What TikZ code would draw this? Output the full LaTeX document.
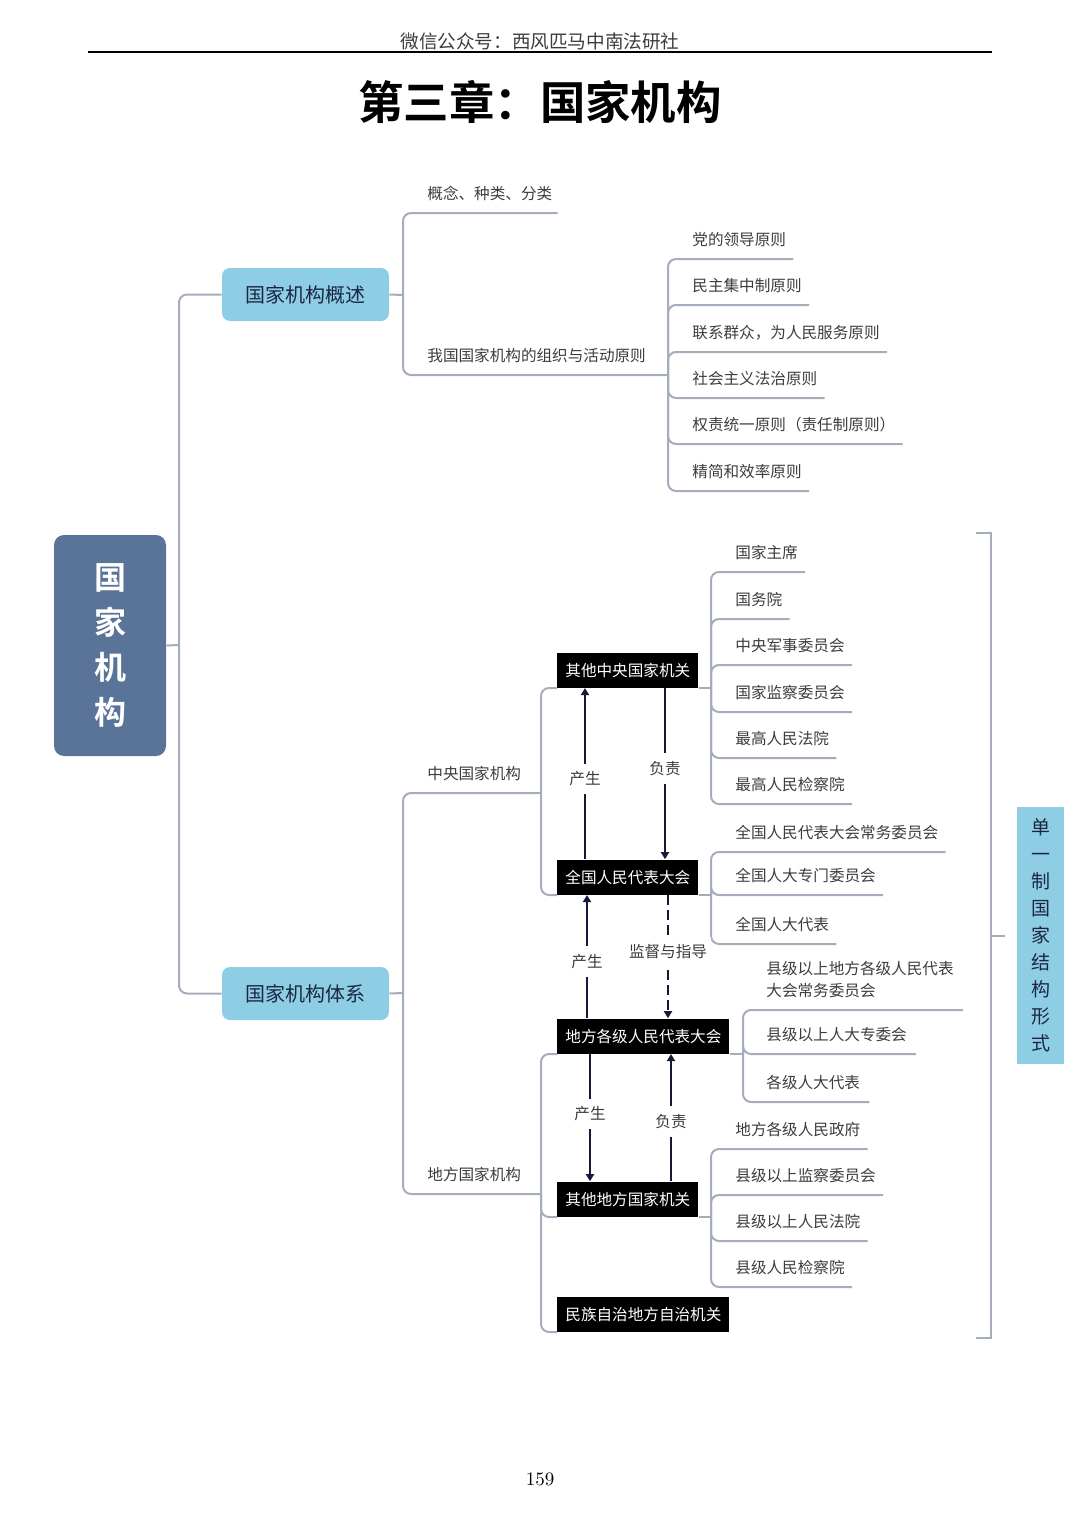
\documentclass[tikz,border=0pt]{standalone}
\usepackage{fontspec}
\usepackage{tikz}
\usetikzlibrary{shapes,arrows,arrows.meta,positioning}
\newfontfamily\cjk{Noto Sans CJK SC}[BoldFont={Noto Sans CJK SC Bold}]
\definecolor{raizcor}{RGB}{90,115,153}
\definecolor{azul}{RGB}{142,206,228}
\definecolor{tinta}{RGB}{28,38,66}
\definecolor{ramo}{RGB}{165,172,188}
\definecolor{texto}{RGB}{60,60,64}
\definecolor{escuro}{RGB}{22,26,58}

\begin{document}
\begin{tikzpicture}[x=0.5pt, y=-0.5pt, >={Triangle[length=3.5pt,width=4pt]},
    conn/.style={draw=ramo, line width=1pt, rounded corners=4pt},
    folha/.style={anchor=south west, inner xsep=0pt, inner ysep=3pt, text height=6.5pt, text depth=3.5pt, text=texto, font=\cjk\fontsize{7.8}{11}\selectfont},
    folhadupla/.style={anchor=south west, inner xsep=0pt, inner ysep=3pt, text depth=3.5pt, align=left, text=texto, font=\cjk\fontsize{7.8}{11}\selectfont},
    caixa/.style={anchor=south west, fill=black, text=white, inner xsep=4pt, minimum height=17.5pt, font=\cjk\fontsize{7.8}{11}\selectfont},
    nivel/.style={fill=azul, text=tinta, rounded corners=4pt, minimum width=83.5pt, minimum height=26.5pt, font=\cjk\fontsize{10}{12}\selectfont},
    seta/.style={draw=escuro, line width=1pt},
    rot/.style={fill=white, inner xsep=2pt, inner ysep=4pt, text=texto, font=\cjk\fontsize{7.8}{11}\selectfont}]
    \useasboundingbox (0,0) rectangle (1080,1526);

    % Cabecalho
    \node[text=texto, font=\cjk\fontsize{9.3}{11}\selectfont] (cab) at (540,41) {微信公众号：西风匹马中南法研社};
    \draw[line width=0.6pt] (88,52) -- (992,52);
    \node[font=\cjk\bfseries\fontsize{22.7}{26}\selectfont] (titulo) at (540,102) {第三章：国家机构};

    % Raiz e primeiro nivel
    \node[fill=raizcor, text=white, rounded corners=5pt, minimum width=56pt, minimum height=110.5pt, align=center, font=\cjk\bfseries\fontsize{16}{22.5}\selectfont] (raiz) at (110,645.5) {国\\家\\机\\构};
    \node[nivel] (gaishu) at (305.5,294.5) {国家机构概述};
    \node[nivel] (tixi) at (305.5,993.5) {国家机构体系};

    % Ramo:概述
    \node[folha] (gainian) at (427,213) {概念、种类、分类};
    \node[folha] (yuanze) at (427,375) {我国国家机构的组织与活动原则};
    \node[folha] (p1) at (692,259) {党的领导原则};
    \node[folha] (p2) at (692,305) {民主集中制原则};
    \node[folha] (p3) at (692,352) {联系群众，为人民服务原则};
    \node[folha] (p4) at (692,398) {社会主义法治原则};
    \node[folha] (p5) at (692,444) {权责统一原则（责任制原则）};
    \node[folha] (p6) at (692,491) {精简和效率原则};

    % Ramo: 体系
    \node[folha] (zhongyang) at (427,793) {中央国家机构};
    \node[folha] (difang) at (427,1194) {地方国家机构};
    \node[caixa] (qtzy) at (557,688) {其他中央国家机关};
    \node[caixa] (qgrd) at (557,895) {全国人民代表大会};
    \node[caixa] (dfrd) at (557,1054) {地方各级人民代表大会};
    \node[caixa] (qtdf) at (557,1217) {其他地方国家机关};
    \node[caixa] (mzzz) at (557,1332) {民族自治地方自治机关};

    \node[folha] (zy1) at (735,572) {国家主席};
    \node[folha] (zy2) at (735,619) {国务院};
    \node[folha] (zy3) at (735,665) {中央军事委员会};
    \node[folha] (zy4) at (735,712) {国家监察委员会};
    \node[folha] (zy5) at (735,758) {最高人民法院};
    \node[folha] (zy6) at (735,804) {最高人民检察院};

    \node[folha] (nq1) at (735,852) {全国人民代表大会常务委员会};
    \node[folha] (nq2) at (735,895) {全国人大专门委员会};
    \node[folha] (nq3) at (735,944) {全国人大代表};

    \node[folhadupla] (dq1) at (766,1010) {县级以上地方各级人民代表\\大会常务委员会};
    \node[folha] (dq2) at (766,1054) {县级以上人大专委会};
    \node[folha] (dq3) at (766,1102) {各级人大代表};

    \node[folha] (do1) at (735,1149) {地方各级人民政府};
    \node[folha] (do2) at (735,1195) {县级以上监察委员会};
    \node[folha] (do3) at (735,1241) {县级以上人民法院};
    \node[folha] (do4) at (735,1287) {县级人民检察院};

    % Pontos de juncao
    \coordinate (j0) at (179,645);
    \coordinate (j1) at (403,295);
    \coordinate (j2) at (668,375);
    \coordinate (j3) at (403,993);
    \coordinate (j4) at (541,793);
    \coordinate (j5) at (541,1194);
    \coordinate (j6) at (711,688);
    \coordinate (j7) at (711,895);
    \coordinate (j8) at (743,1054);
    \coordinate (j9) at (711,1217);

    % Ligacoes
    \draw[conn] (raiz.east) -- (j0);
    \draw[conn] (j0) |- (gaishu.west);
    \draw[conn] (j0) |- (tixi.west);

    \draw[conn] (gaishu.east) -- (j1);
    \draw[conn] (j1) |- (gainian.south west) -- ([xshift=2.5pt]gainian.south east);
    \draw[conn] (j1) |- (yuanze.south west) -- (j2);
    \foreach \f in {p1,p2,p3,p4,p5,p6}
        \draw[conn] (j2) |- (\f.south west) -- ([xshift=3.5pt]\f.south east);

    \draw[conn] (tixi.east) -- (j3);
    \draw[conn] (j3) |- (zhongyang.south west) -- (j4);
    \draw[conn] (j3) |- (difang.south west) -- (j5);

    \draw[conn] (j4) |- (qtzy.south west);
    \draw[conn] (qtzy.south east) -- (j6);
    \draw[conn] (j4) |- (qgrd.south west);
    \draw[conn] (qgrd.south east) -- (j7);
    \draw[conn] (j5) |- (dfrd.south west);
    \draw[conn] (dfrd.south east) -- (j8);
    \draw[conn] (j5) |- (qtdf.south west);
    \draw[conn] (qtdf.south east) -- (j9);
    \draw[conn] (j5) |- (mzzz.south west);

    \foreach \f in {zy1,zy2,zy3,zy4,zy5,zy6}
        \draw[conn] (j6) |- (\f.south west) -- ([xshift=3.5pt]\f.south east);
    \foreach \f in {nq1,nq2,nq3}
        \draw[conn] (j7) |- (\f.south west) -- ([xshift=3.5pt]\f.south east);
    \foreach \f in {dq1,dq2,dq3}
        \draw[conn] (j8) |- (\f.south west) -- ([xshift=4.5pt]\f.south east);
    \foreach \f in {do1,do2,do3,do4}
        \draw[conn] (j9) |- (\f.south west) -- ([xshift=3.5pt]\f.south east);

    % Setas entre os orgaos
    \draw[seta,->] ([xshift=14pt]qgrd.north west) -- node[rot, pos=0.47] {产生} ([xshift=14pt]qtzy.south west);
    \draw[seta,->] ([xshift=54pt]qtzy.south west) -- node[rot, pos=0.47] {负责} ([xshift=54pt]qgrd.north west);
    \draw[seta,->] ([xshift=15pt]dfrd.north west) -- node[rot, pos=0.46] {产生} ([xshift=15pt]qgrd.south west);
    \draw[seta,->, dash pattern=on 5pt off 2.5pt] ([xshift=55.5pt]qgrd.south west) -- node[rot, pos=0.46] {监督与指导} ([xshift=55.5pt]dfrd.north west);
    \draw[seta,->] ([xshift=16.5pt]dfrd.south west) -- node[rot, pos=0.47] {产生} ([xshift=16.5pt]qtdf.north west);
    \draw[seta,->] ([xshift=57pt]qtdf.north west) -- node[rot, pos=0.47] {负责} ([xshift=57pt]dfrd.south west);

    % Colchete: estrutura do Estado
    \node[fill=azul, text=tinta, minimum width=23.5pt, minimum height=128.5pt, align=center, font=\cjk\fontsize{9.5}{13.5}\selectfont] (danyi) at (1040.5,935.5) {单\\一\\制\\国\\家\\结\\构\\形\\式};
    \coordinate (kt) at (976,533);
    \coordinate (kb) at (976,1338);
    \draw[conn, rounded corners=0pt] (kt) -- ++(15,0) |- (kb);
    \draw[conn] ([xshift=-6pt]danyi.west) -- ([xshift=-13pt]danyi.west);

    % Pagina
    \node[font=\fontsize{9.5}{11}\selectfont] (pag) at (540,1479) {159};
\end{tikzpicture}
\end{document}
